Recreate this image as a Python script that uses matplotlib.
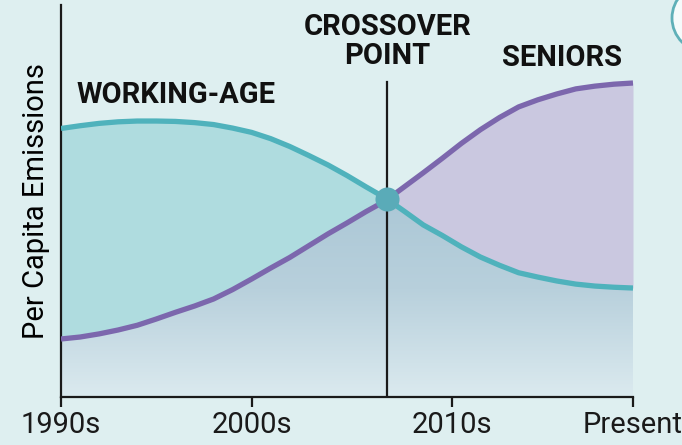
import numpy as np
import matplotlib.pyplot as plt
from matplotlib.patches import Circle
from matplotlib.transforms import IdentityTransform
from matplotlib.colors import LinearSegmentedColormap

# values (x in years, y on a 0-100 scale)
years = list(range(1990, 2021))
working_age = [68.5, 69.2, 69.8, 70.2, 70.4, 70.4, 70.3, 70.0, 69.5, 68.6,
               67.5, 65.9, 63.9, 61.6, 59.2, 56.5, 53.6, 50.8, 47.4, 43.9,
               41.2, 38.3, 35.7, 33.6, 31.7, 30.6, 29.6, 28.8, 28.3, 28.0,
               27.8]
seniors = [14.8, 15.3, 16.1, 17.1, 18.3, 19.9, 21.6, 23.2, 25.0, 27.4,
           30.1, 32.9, 35.6, 38.6, 41.6, 44.4, 47.3, 50.0, 53.6, 57.2,
           60.9, 64.7, 68.2, 71.3, 74.0, 75.8, 77.3, 78.6, 79.3, 79.8,
           80.1]
tick_pos = [1990, 2000, 2010.5, 2020]
tick_labels = ["1990s", "2000s", "2010s", "Present"]

BG = "#deeff0"
TEAL = "#4fb2bc"
PURPLE = "#7c67ad"

x = np.array(years, dtype=float)
wa = np.array(working_age)
sn = np.array(seniors)

# crossover from the data
d = wa - sn
i = np.where(np.diff(np.sign(d)) != 0)[0][0]
t = d[i] / (d[i] - d[i + 1])
cx = x[i] + t * (x[i + 1] - x[i])
cy = wa[i] + t * (wa[i + 1] - wa[i])

fig = plt.figure(figsize=(6.82, 4.45), dpi=100, facecolor=BG)
W, H = 682, 445
ax = fig.add_axes([61 / W, 48 / H, 572 / W, 392 / H])
ax.set_facecolor(BG)

# coloured bands above the lower curve
ax.fill_between(x, sn, wa, where=wa >= sn, interpolate=True,
                color="#afdcdf", lw=0, zorder=1)
ax.fill_between(x, wa, sn, where=sn >= wa, interpolate=True,
                color="#cac8e0", lw=0, zorder=1)

# gradient under both curves
low = np.minimum(wa, sn)
poly = ax.fill_between(x, 0, low, color="none", lw=0)
grad = np.linspace(0, 1, 256).reshape(-1, 1)
cmap = LinearSegmentedColormap.from_list("g", ["#dbeaef", "#b8d0dc", "#a9c6d5"])
im = ax.imshow(grad, cmap=cmap, origin="lower", aspect="auto",
               extent=[1990, 2020, 0, 55], zorder=1)
im.set_clip_path(poly.get_paths()[0], transform=ax.transData)
ax.set_xlim(1990, 2020)
ax.set_ylim(0, 100)

ax.plot(x, wa, color=TEAL, lw=3.8, solid_capstyle="butt", zorder=3)
ax.plot(x, sn, color=PURPLE, lw=3.8, solid_capstyle="butt", zorder=3)

ax.plot([cx, cx], [0, 80.4], color="#1a1a1a", lw=1.6, zorder=4)
ax.scatter([cx], [cy], s=300, color="#5aabb8", zorder=5, lw=0)

for s in ["top", "right"]:
    ax.spines[s].set_visible(False)
for s in ["left", "bottom"]:
    ax.spines[s].set_linewidth(1.6)
    ax.spines[s].set_color("#1a1a1a")
ax.set_yticks([])
ax.set_xticks(tick_pos)
ax.set_xticklabels(tick_labels, fontsize=21, fontfamily="Roboto")
ax.tick_params(axis="x", length=7, width=1.6, pad=3, colors="#1a1a1a")
ax.set_ylabel("Per Capita Emissions", fontsize=21, fontfamily="Roboto",
              labelpad=8)

ax.text(1990.8, 77, "WORKING-AGE", fontsize=21, fontweight="bold",
        fontfamily="Roboto", ha="left", va="center", color="#111111")
ax.text(cx, 90.6, "CROSSOVER\nPOINT", fontsize=21, fontweight="bold",
        fontfamily="Roboto", ha="center", va="center", linespacing=1.05,
        color="#111111")
ax.text(2016.3, 86.5, "SENIORS", fontsize=21, fontweight="bold",
        fontfamily="Roboto", ha="center", va="center", color="#111111")

# partial badge at the top-right corner
fig.add_artist(Circle((706, 427), 34, transform=IdentityTransform(),
                      facecolor="#f5fbfb", edgecolor="#5fb0b8", lw=2))

fig.savefig("out.png", dpi=100, facecolor=BG)
